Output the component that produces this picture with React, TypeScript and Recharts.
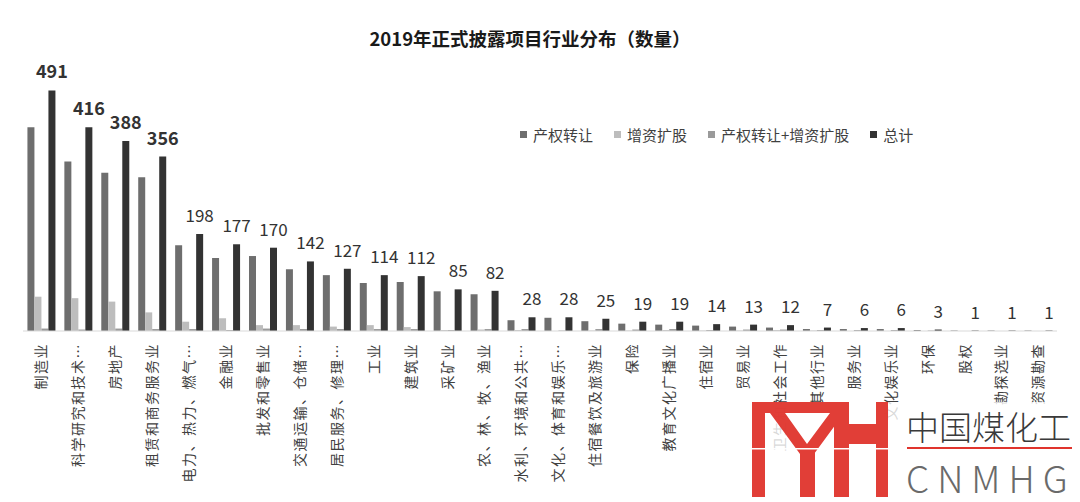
import { BarChart, Bar, XAxis, YAxis, Legend, LabelList } from 'recharts';

const FONT = '"Noto Sans CJK SC", "Noto Sans", sans-serif';

const categories = [
  '制造业', '科学研究和技术…', '房地产', '租赁和商务服务业', '电力、热力、燃气…', '金融业',
  '批发和零售业', '交通运输、仓储…', '居民服务、修理…', '工业', '建筑业', '采矿业',
  '农、林、牧、渔业', '水利、环境和公共…', '文化、体育和娱乐…', '住宿餐饮及旅游业', '保险',
  '教育文化广播业', '住宿业', '贸易业', '卫生和社会工作', '其他行业', '服务业', '文化娱乐业',
  '环保', '股权', '勘探选业', '资源勘查',
];

const seriesNames = ['产权转让', '增资扩股', '产权转让+增资扩股', '总计'];

// 产权转让
const transferValues = [416, 346, 323, 314, 175, 149, 153, 126, 114, 98, 100, 81, 75, 22, 27, 20, 15, 13, 11, 9, 7, 4, 4, 4, 2, 1, 1, 1];
// 增资扩股
const capitalValues = [70, 67, 60, 38, 19, 26, 12, 12, 9, 12, 8, 2, 3, 2, 0, 1, 1, 2, 1, 1, 2, 1, 0, 0, 0, 0, 0, 0];
// 产权转让+增资扩股
const combinedValues = [5, 3, 5, 4, 4, 2, 5, 4, 4, 4, 4, 2, 4, 4, 1, 4, 3, 4, 2, 3, 3, 2, 2, 2, 1, 0, 0, 0];
// 总计
const totalValues = [491, 416, 388, 356, 198, 177, 170, 142, 127, 114, 112, 85, 82, 28, 28, 25, 19, 19, 14, 13, 12, 7, 6, 6, 3, 1, 1, 1];

const data = categories.map((name, i) => ({
  name,
  transfer: transferValues[i],
  capital: capitalValues[i],
  combined: combinedValues[i],
  total: totalValues[i],
}));

function CategoryTick({ x, y, payload }: any) {
  const ty = y + 12;
  return (
    <text
      x={x}
      y={ty}
      transform={`rotate(-90 ${x} ${ty})`}
      textAnchor="end"
      dy="0.35em"
      fontSize={14}
      letterSpacing={1.5}
      fill="#404040"
      fontFamily={FONT}
    >
      {payload.value}
    </text>
  );
}

function TotalLabel({ x, y, width, value, index }: any) {
  const big = index < 4;
  return (
    <text
      x={x + width / 2}
      y={y - 12}
      textAnchor="middle"
      fontSize={big ? 18 : 17}
      fontWeight={big ? 700 : 400}
      fill="#333"
      fontFamily={FONT}
    >
      {value}
    </text>
  );
}

function LegendContent({ payload }: any) {
  const items = [...(payload || [])].sort(
    (a: any, b: any) => seriesNames.indexOf(a.value) - seriesNames.indexOf(b.value)
  );
  return (
    <div style={{ display: 'flex', fontFamily: FONT, fontSize: 15, color: '#404040', whiteSpace: 'nowrap' }}>
      {items.map((p: any) => (
        <div key={p.value} style={{ display: 'flex', alignItems: 'center', marginRight: 21 }}>
          <span style={{ display: 'inline-block', width: 7, height: 7, background: p.color, marginRight: 6 }} />
          {p.value}
        </div>
      ))}
    </div>
  );
}

function Watermark() {
  return (
    <>
      <div style={{ position: 'absolute', left: 742, top: 394, width: 330, height: 108, background: 'rgba(255,255,255,0.8)' }} />
      <svg style={{ position: 'absolute', left: 744, top: 394, opacity: 0.95 }} width={136} height={95}>
        <g fill="#e0342d">
          <rect x={0} y={0} width={97} height={11} />
          <rect x={0} y={0} width={13} height={95} />
          <polygon points="18,11 33,11 55,42 78,11 84,11 84,22 62,52 48,52" />
          <rect x={48} y={46} width={15} height={49} />
          <rect x={82} y={0} width={15} height={95} />
          <rect x={97} y={22} width={28} height={20} />
          <rect x={124} y={0} width={12} height={95} />
        </g>
        <rect x={0} y={46} width={136} height={1.5} fill="#fff" />
      </svg>
      <div style={{ position: 'absolute', left: 898, top: 396, fontFamily: FONT, fontSize: 33, fontWeight: 300, color: '#3a3a3a', lineHeight: '44px', whiteSpace: 'nowrap' }}>
        中国煤化工
      </div>
      <div style={{ position: 'absolute', left: 899, top: 439, width: 166, height: 2, background: '#e0342d' }} />
      <div style={{ position: 'absolute', left: 898, top: 446, fontFamily: FONT, fontSize: 37, fontWeight: 300, color: '#6a6a6a', letterSpacing: 8, lineHeight: '46px', whiteSpace: 'nowrap' }}>
        CNMHG
      </div>
    </>
  );
}

export default function App() {
  return (
    <div style={{ position: 'relative', width: 1064, height: 494, background: '#fff' }}>
      <BarChart
        width={1064}
        height={494}
        data={data}
        margin={{ top: 78, right: 15, bottom: 0, left: 15 }}
        barCategoryGap="12%"
        barGap={0}
      >
        <XAxis
          dataKey="name"
          interval={0}
          tickLine={false}
          tickSize={0}
          tickMargin={0}
          height={150}
          axisLine={{ stroke: '#d9d9d9' }}
          tick={<CategoryTick />}
        />
        <YAxis hide domain={[0, 500]} />
        <Legend
          content={<LegendContent />}
          wrapperStyle={{ left: 512, top: 116, width: 'auto', bottom: 'auto' }}
        />
        <Bar dataKey="transfer" name={seriesNames[0]} fill="#6e6e6e" isAnimationActive={false} />
        <Bar dataKey="capital" name={seriesNames[1]} fill="#bdbdbd" isAnimationActive={false} />
        <Bar dataKey="combined" name={seriesNames[2]} fill="#9a9a9a" isAnimationActive={false} />
        <Bar dataKey="total" name={seriesNames[3]} fill="#333333" isAnimationActive={false}>
          <LabelList dataKey="total" content={<TotalLabel />} />
        </Bar>
      </BarChart>
      <div
        style={{
          position: 'absolute',
          left: 0,
          width: 1064,
          top: 17,
          textAlign: 'center',
          fontFamily: FONT,
          fontSize: 18.5,
          fontWeight: 700,
          color: '#1a1a1a',
          paddingRight: 20,
          boxSizing: 'border-box',
        }}
      >
        2019年正式披露项目行业分布（数量）
      </div>
      <Watermark />
    </div>
  );
}
